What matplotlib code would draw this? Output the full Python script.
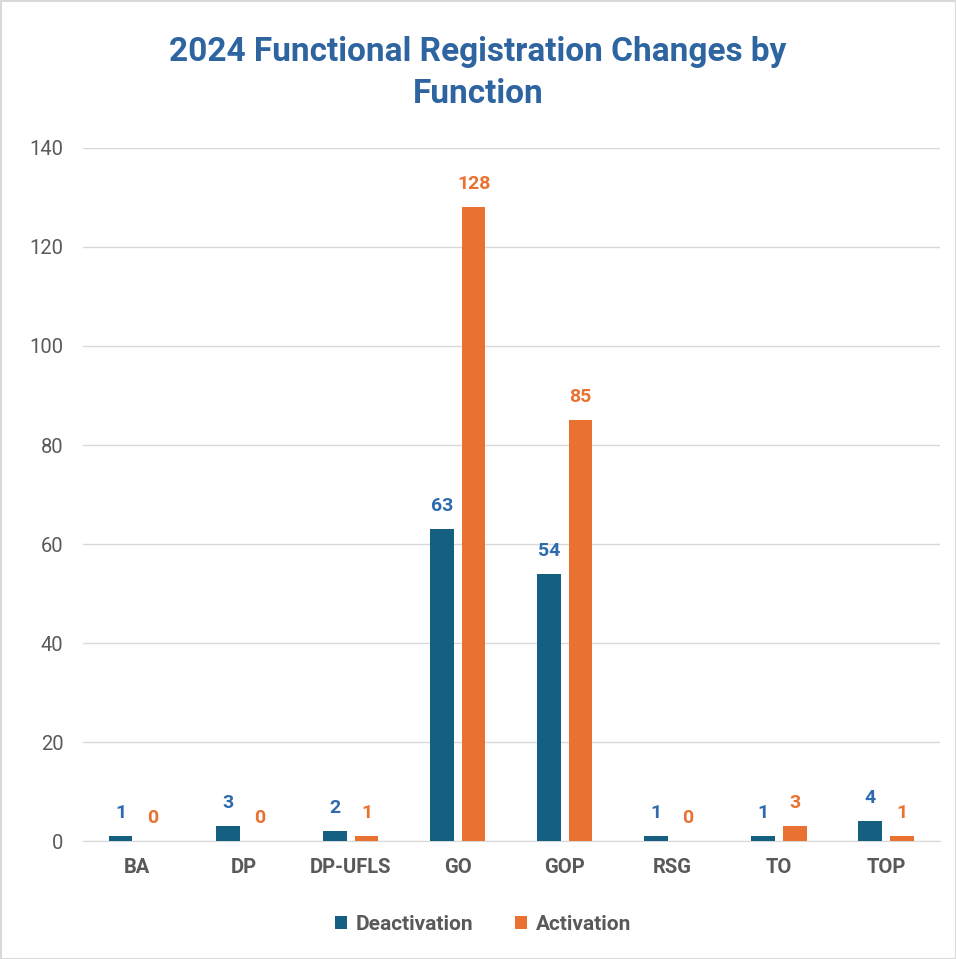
import numpy as np
import matplotlib.pyplot as plt

functions = ["BA", "DP", "DP-UFLS", "GO", "GOP", "RSG", "TO", "TOP"]
deactivation = [1, 3, 2, 63, 54, 1, 1, 4]
activation = [0, 0, 1, 128, 85, 0, 3, 1]

deact_color = "#156082"
act_color = "#E97132"
deact_label_color = "#2E6AAE"
title_color = "#2E64A0"

plt.rcParams["font.family"] = ["Roboto", "DejaVu Sans"]

fig = plt.figure(figsize=(9.56, 9.59), dpi=100)
fig.patch.set_edgecolor("#D9D9D9")
fig.patch.set_linewidth(2)
ax = fig.add_axes([0.0868, 0.123, 0.896, 0.7227])

x = np.arange(len(functions))
w = 0.22
off = 0.148
ax.bar(x - off, deactivation, w, color=deact_color, label="Deactivation", zorder=3)
ax.bar(x + off, activation, w, color=act_color, label="Activation", zorder=3)

# data labels above each bar
for xi, v in zip(x, deactivation):
    ax.annotate(str(v), (xi - off, v), xytext=(0, 10), textcoords="offset points",
                ha="center", va="bottom", fontsize=14, fontweight="bold",
                color=deact_label_color)
for xi, v in zip(x, activation):
    ax.annotate(str(v), (xi + off, v), xytext=(0, 10), textcoords="offset points",
                ha="center", va="bottom", fontsize=14, fontweight="bold",
                color=act_color)

ax.set_xlim(-0.5, len(functions) - 0.5)
ax.set_ylim(0, 140)
ax.set_yticks(range(0, 141, 20))
ax.set_xticks(x)
ax.set_xticklabels(functions, fontweight="bold")
ax.tick_params(axis="x", length=0, pad=12, labelsize=14.5, labelcolor="#595959")
ax.tick_params(axis="y", length=0, pad=14, labelsize=14.5, labelcolor="#595959")
ax.grid(axis="y", color="#D9D9D9", linewidth=1, zorder=0)
for s in ["top", "right", "left"]:
    ax.spines[s].set_visible(False)
ax.spines["bottom"].set_color("#D9D9D9")

fig.text(0.5, 0.924, "2024 Functional Registration Changes by\nFunction",
         ha="center", va="center", fontsize=24, fontweight="bold",
         color=title_color, linespacing=1.4)

leg = fig.legend(loc="center", bbox_to_anchor=(0.505, 0.036), ncol=2, frameon=False,
                 handlelength=0.6, handleheight=0.6, handletextpad=0.4,
                 columnspacing=2.0, prop={"size": 15, "weight": "bold"})
for t in leg.get_texts():
    t.set_color("#595959")

fig.savefig("out.png", dpi=100)
